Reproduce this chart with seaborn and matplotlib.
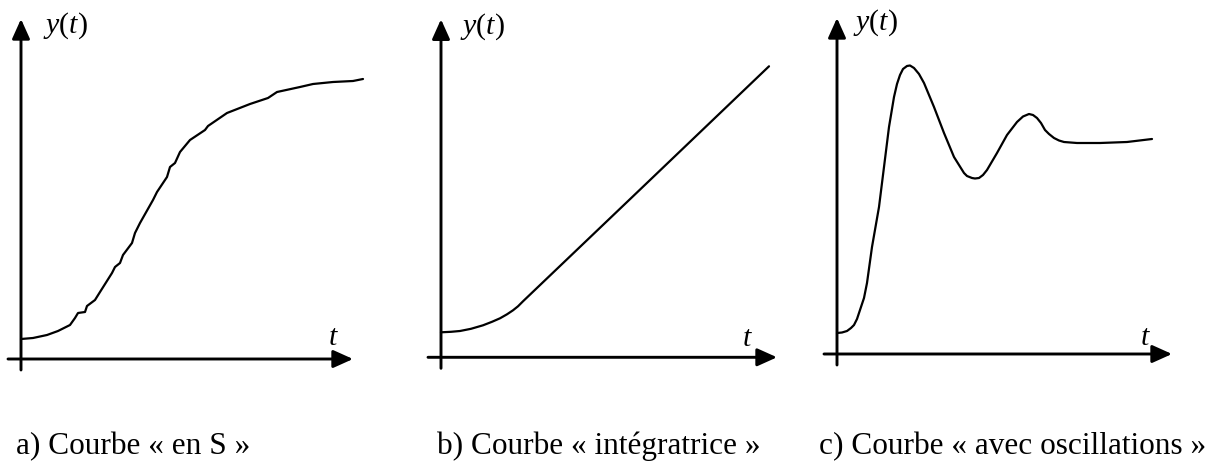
import matplotlib
matplotlib.use("Agg")
import matplotlib.pyplot as plt
import pandas as pd
import seaborn as sns

# ---- data (arbitrary units) ----
t_s = [0.0, 1.2, 2.6, 3.7, 4.9, 5.4, 5.7, 6.4, 6.6, 7.4, 7.9, 9.1, 9.4, 9.9,
       10.2, 11.1, 11.4, 11.9, 13.2, 13.6, 14.6, 14.9, 15.4, 15.9, 16.9, 18.4,
       18.7, 20.6, 22.9, 24.7, 25.6, 27.9, 29.2, 31.2, 33.2, 34.2]
y_s = [2.0, 2.1, 2.4, 2.8, 3.4, 4.1, 4.6, 4.7, 5.3, 5.9, 6.7, 8.6, 9.2, 9.6,
       10.4, 11.6, 12.6, 13.6, 15.9, 16.7, 18.2, 19.2, 19.6, 20.7, 21.9, 22.9,
       23.3, 24.6, 25.5, 26.1, 26.7, 27.2, 27.5, 27.7, 27.8, 28.0]

t_int = [0.0, 1.0, 1.9, 3.0, 4.2, 5.1, 5.9, 6.6, 7.2, 7.7, 8.2, 19.2, 32.8]
y_int = [2.5, 2.55, 2.63, 2.85, 3.2, 3.55, 3.9, 4.3, 4.7, 5.1, 5.6, 16.1, 29.1]

t_osc = [0.0, 0.5, 1.0, 1.4, 1.7, 2.0, 2.3, 2.7, 3.0, 3.5, 4.2, 4.7, 5.2,
         5.7, 6.0, 6.3, 6.6, 7.0, 7.3, 7.7, 8.2, 8.7, 9.7, 10.7, 11.7, 12.7,
         13.0, 13.5, 13.8, 14.2, 14.6, 15.0, 16.0, 17.0, 18.0, 18.6, 19.2,
         19.6, 20.0, 20.4, 20.8, 21.2, 21.7, 22.2, 22.7, 24.0, 26.3, 29.0, 31.5]
y_osc = [2.1, 2.15, 2.3, 2.6, 2.9, 3.5, 4.4, 5.6, 7.1, 10.7, 14.7, 18.7, 22.7,
         25.7, 27.0, 27.9, 28.5, 28.8, 28.85, 28.6, 28.0, 27.1, 24.7, 22.1,
         19.7, 18.1, 17.8, 17.6, 17.55, 17.6, 17.9, 18.4, 20.1, 21.9, 23.2,
         23.75, 24.0, 23.9, 23.6, 23.1, 22.4, 22.0, 21.6, 21.35, 21.2, 21.1,
         21.1, 21.2, 21.5]

captions = ["a) Courbe « en S »", "b) Courbe « intégratrice »",
            "c) Courbe « avec oscillations »"]
y_label = "$y(t)$"
x_label = "$t$"

series = [(t_s, y_s), (t_int, y_int), (t_osc, y_osc)]

# ---- style ----
sns.set_theme(style="white")
plt.rcParams["font.family"] = ["Liberation Serif", "DejaVu Serif"]
plt.rcParams["mathtext.fontset"] = "custom"
plt.rcParams["mathtext.rm"] = "Liberation Serif"
plt.rcParams["mathtext.it"] = "Liberation Serif:italic"

W, H = 1215, 461
fig = plt.figure(figsize=(W / 100, H / 100), dpi=100)
fig.patch.set_facecolor("white")

# panel layout: origin in pixels (x0, y0 from top), axis extents in data units
panels = [
    dict(x0=21, y0=359, xl=-1.3, xt=33.2, yb=-1.1, yt=34.0, lab=(2.2, 32.6), tl=(30.7, 1.4)),
    dict(x0=441, y0=357.3, xl=-1.3, xt=33.6, yb=-1.1, yt=33.8, lab=(1.9, 32.4), tl=(30.1, 1.1)),
    dict(x0=837, y0=354, xl=-1.3, xt=33.5, yb=-1.1, yt=33.6, lab=(1.6, 32.4), tl=(30.3, 0.9)),
]
caption_x = [16, 437, 819]
caption_base = 454

XMIN, XMAX, YMIN, YMAX = -2, 36, -2, 35
SCALE = 10  # pixels per data unit

arrow_style = "-|>,head_length=0.6,head_width=0.27"

for p, (tt, yy), cap, cx in zip(panels, series, captions, caption_x):
    left = (p["x0"] + XMIN * SCALE) / W
    bottom = (H - (p["y0"] - YMIN * SCALE)) / H
    width = (XMAX - XMIN) * SCALE / W
    height = (YMAX - YMIN) * SCALE / H
    ax = fig.add_axes([left, bottom, width, height])
    ax.set_xlim(XMIN, XMAX)
    ax.set_ylim(YMIN, YMAX)
    ax.axis("off")

    df = pd.DataFrame({"t": tt, "y": yy})
    sns.lineplot(data=df, x="t", y="y", ax=ax, color="black", linewidth=1.6,
                 estimator=None, sort=False)
    for ln in ax.get_lines():
        ln.set_solid_joinstyle("round")
        ln.set_solid_capstyle("round")

    # axes with arrows
    ax.annotate("", xy=(p["xt"], 0), xytext=(p["xl"], 0),
                arrowprops=dict(arrowstyle=arrow_style, mutation_scale=20,
                                lw=2.1, color="black", shrinkA=0, shrinkB=0),
                annotation_clip=False)
    ax.annotate("", xy=(0, p["yt"]), xytext=(0, p["yb"]),
                arrowprops=dict(arrowstyle=arrow_style, mutation_scale=20,
                                lw=2.1, color="black", shrinkA=0, shrinkB=0),
                annotation_clip=False)

    ax.text(p["lab"][0], p["lab"][1], y_label, fontsize=21.5, ha="left",
            va="baseline", color="black")
    ax.text(p["tl"][0], p["tl"][1], x_label, fontsize=21.5, ha="left",
            va="baseline", color="black")

    fig.text(cx / W, (H - caption_base) / H, cap, fontsize=22.5, ha="left",
             va="baseline", color="black")

fig.savefig("out.png", dpi=100, facecolor="white")
